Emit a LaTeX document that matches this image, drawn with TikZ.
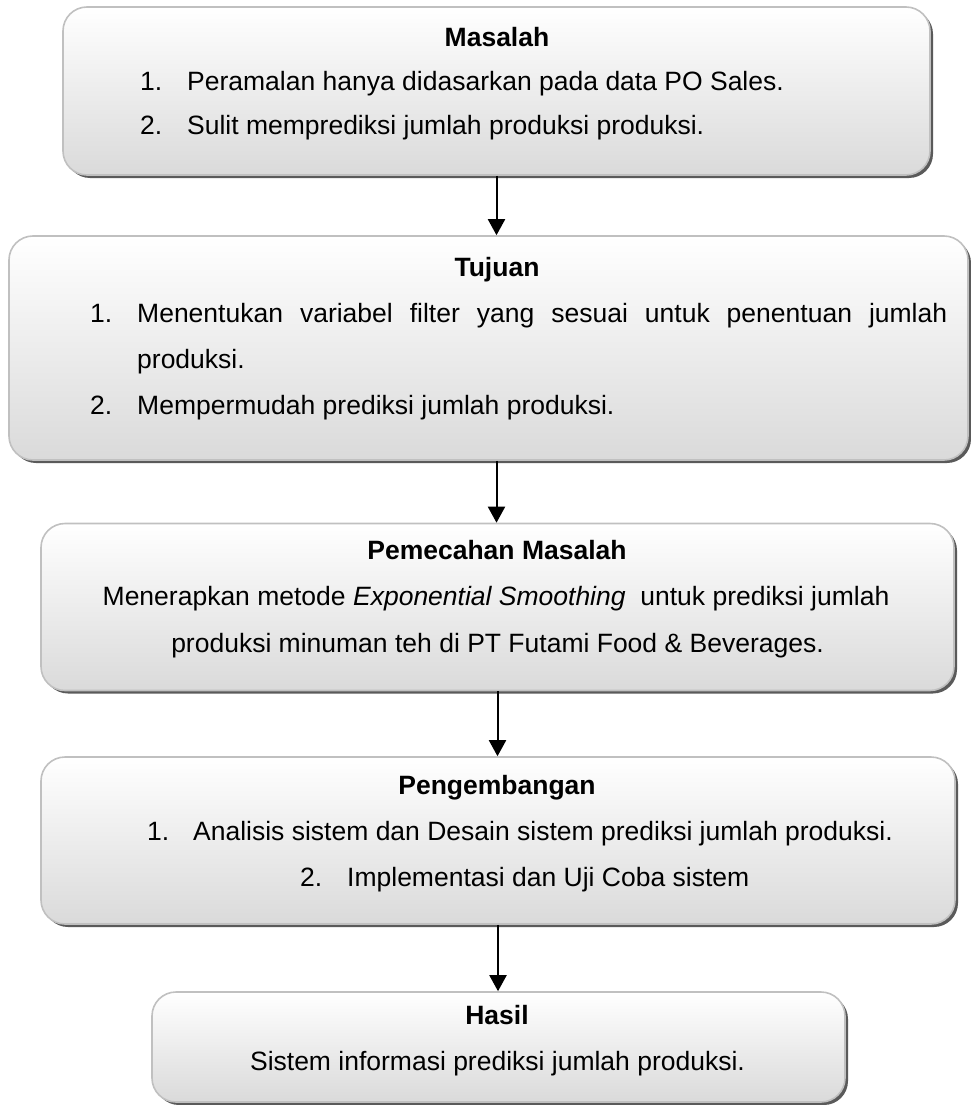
\documentclass[tikz,border=0pt]{standalone}
\usepackage{fontspec}
\setmainfont{Liberation Sans}
\usetikzlibrary{arrows.meta,shadows}
\definecolor{boxborder}{RGB}{192,192,192}
\definecolor{boxbottom}{RGB}{218,218,218}
\definecolor{shadowgray}{RGB}{90,90,90}
\begin{document}
\begin{tikzpicture}[x=1pt,y=-1pt,
  box/.style={draw=boxborder, line width=1.6pt, rounded corners=24pt,
    top color=white, bottom color=boxbottom,
    drop shadow={shadow xshift=3pt, shadow yshift=-3pt, fill=shadowgray, opacity=1},
    inner sep=0pt},
  txt/.style={inner sep=0pt, font=\fontsize{26.5}{44}\selectfont},
  ttl/.style={inner sep=0pt, font=\fontsize{26.5}{44}\selectfont\bfseries},
  flow/.style={line width=2pt, -{Triangle[width=17pt,length=16pt]}}]
\useasboundingbox (0,0) rectangle (970,1105);

% boxes
\node[box, minimum width=867pt, minimum height=168pt] (b1) at (496.5,91) {};
\node[box, minimum width=959pt, minimum height=224pt] (b2) at (488.5,348) {};
\node[box, minimum width=913pt, minimum height=167pt] (b3) at (497.5,607) {};
\node[box, minimum width=914pt, minimum height=167pt] (b4) at (498,840.5) {};
\node[box, minimum width=693pt, minimum height=110pt] (b5) at (498.5,1047) {};

% box 1
\node[ttl, anchor=mid] (t1) at (497,44) {Masalah};
\node[txt, anchor=mid west] (n1a) at (140,88) {1.};
\node[txt, anchor=mid west] (l1a) at (187,88) {Peramalan hanya didasarkan pada data PO Sales.};
\node[txt, anchor=mid west] (n1b) at (140,132) {2.};
\node[txt, anchor=mid west] (l1b) at (187,132) {Sulit memprediksi jumlah produksi produksi.};

% box 2
\node[ttl, anchor=mid] (t2) at (497,274) {Tujuan};
\node[txt, anchor=mid west] (n2a) at (90,320) {1.};
\node[txt, anchor=mid west] (l2a) at (137,320) {\makebox[810pt][s]{Menentukan variabel filter yang sesuai untuk penentuan jumlah}};
\node[txt, anchor=mid west] (l2b) at (137,366) {produksi.};
\node[txt, anchor=mid west] (n2c) at (90,412) {2.};
\node[txt, anchor=mid west] (l2c) at (137,412) {Mempermudah prediksi jumlah produksi.};

% box 3
\node[ttl, anchor=mid] (t3) at (497,557) {Pemecahan Masalah};
\node[txt, anchor=mid] (l3a) at (496,603) {Menerapkan metode \textit{Exponential Smoothing}\ \ untuk prediksi jumlah};
\node[txt, anchor=mid] (l3b) at (497.5,650) {produksi minuman teh di PT Futami Food \& Beverages.};

% box 4
\node[ttl, anchor=mid] (t4) at (497,792) {Pengembangan};
\node[txt, anchor=mid west] (n4a) at (147,838) {1.};
\node[txt, anchor=mid west] (l4a) at (193,838) {Analisis sistem dan Desain sistem prediksi jumlah produksi.};
\node[txt, anchor=mid west] (n4b) at (300,884) {2.};
\node[txt, anchor=mid west] (l4b) at (347,884) {Implementasi dan Uji Coba sistem};

% box 5
\node[ttl, anchor=mid] (t5) at (497,1022) {Hasil};
\node[txt, anchor=mid] (l5a) at (497.5,1068) {Sistem informasi prediksi jumlah produksi.};

% arrows
\draw[flow] (b1.south) -- (b1.south |- b2.north);
\draw[flow] (b1.south |- b2.south) -- (b1.south |- b3.north);
\draw[flow] (b3.south) -- (b3.south |- b4.north);
\draw[flow] (b4.south) -- (b4.south |- b5.north);
\end{tikzpicture}
\end{document}
